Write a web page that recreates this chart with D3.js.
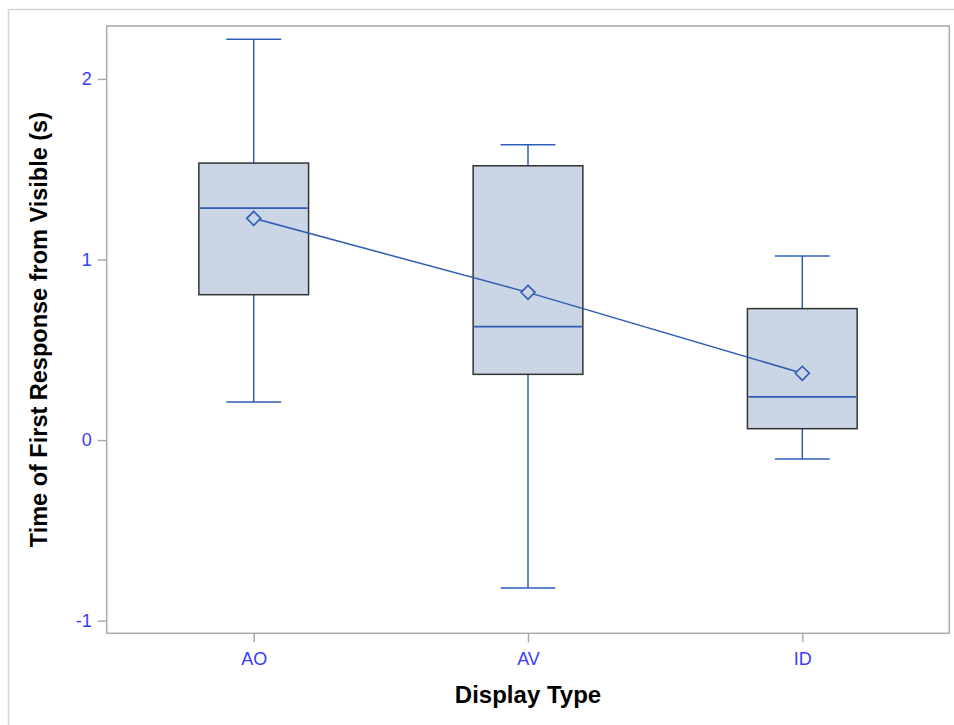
<!DOCTYPE html>
<html>
<head>
<meta charset="utf-8">
<script src="https://cdn.jsdelivr.net/npm/d3@7"></script>
<style>
  html, body { margin: 0; padding: 0; background: #fff; }
  svg { display: block; font-family: Arial, "Liberation Sans", sans-serif; }
</style>
</head>
<body>
<svg id="chart" width="954" height="725"></svg>
<script>
// Box plot statistics per display type
const categories = ["AO", "AV", "ID"];
const whiskerLow  = [0.211, -0.819, -0.105];
const quartile1   = [0.805, 0.364, 0.063];
const medians     = [1.285, 0.628, 0.239];
const quartile3   = [1.534, 1.519, 0.728];
const whiskerHigh = [2.219, 1.636, 1.019];
const means       = [1.228, 0.818, 0.370];
const yTicks      = [-1, 0, 1, 2];

const svg = d3.select("#chart");

const plot = { left: 106.7, right: 949.3, top: 26, bottom: 633.3 };

const x = d3.scalePoint()
  .domain(categories)
  .range([plot.left, plot.right])
  .padding(0.536);

const y = d3.scaleLinear()
  .domain([-1.070, 2.293])
  .range([plot.bottom, plot.top]);

const blue = "#2f5db4";
const tickText = "#3a3aff";
const axisGray = "#a6abaf";

// outer frame
svg.append("line").attr("x1", 8.5).attr("x2", 954).attr("y1", 9.5).attr("y2", 9.5)
  .attr("stroke", "#d4d4d4").attr("stroke-width", 1.5);
svg.append("line").attr("x1", 8.5).attr("x2", 8.5).attr("y1", 9.5).attr("y2", 725)
  .attr("stroke", "#d4d4d4").attr("stroke-width", 1.5);

// plot wall
svg.append("rect")
  .attr("x", plot.left).attr("y", plot.top)
  .attr("width", plot.right - plot.left).attr("height", plot.bottom - plot.top)
  .attr("fill", "#fff").attr("stroke", axisGray).attr("stroke-width", 1.5);

// axes
const yAxis = svg.append("g")
  .attr("transform", `translate(${plot.left},0)`)
  .call(d3.axisLeft(y).tickValues(yTicks).tickFormat(d => String(d)).tickSize(9).tickPadding(6));
const xAxis = svg.append("g")
  .attr("transform", `translate(0,${plot.bottom})`)
  .call(d3.axisBottom(x).tickSize(9).tickPadding(10));

[yAxis, xAxis].forEach(g => {
  g.select(".domain").remove();
  g.selectAll(".tick line").attr("stroke", axisGray).attr("stroke-width", 1.5);
  g.selectAll(".tick text")
    .attr("fill", tickText)
    .style("font-size", "18px")
    .style("font-family", "Arial, 'Liberation Sans', sans-serif");
});

const boxW = x.step() * 0.4;
const capW = boxW / 2;

const rows = categories.map((c, i) => ({
  c, lo: whiskerLow[i], q1: quartile1[i], med: medians[i],
  q3: quartile3[i], hi: whiskerHigh[i], mean: means[i]
}));

const g = svg.append("g");

// whiskers, boxes and medians
rows.forEach(d => {
  const cx = x(d.c);
  g.append("line").attr("x1", cx).attr("x2", cx).attr("y1", y(d.hi)).attr("y2", y(d.q3))
    .attr("stroke", blue).attr("stroke-width", 1.5);
  g.append("line").attr("x1", cx).attr("x2", cx).attr("y1", y(d.q1)).attr("y2", y(d.lo))
    .attr("stroke", blue).attr("stroke-width", 1.5);
  g.append("line").attr("x1", cx - capW / 2).attr("x2", cx + capW / 2).attr("y1", y(d.hi)).attr("y2", y(d.hi))
    .attr("stroke", blue).attr("stroke-width", 1.5);
  g.append("line").attr("x1", cx - capW / 2).attr("x2", cx + capW / 2).attr("y1", y(d.lo)).attr("y2", y(d.lo))
    .attr("stroke", blue).attr("stroke-width", 1.5);
  g.append("rect")
    .attr("x", cx - boxW / 2).attr("y", y(d.q3))
    .attr("width", boxW).attr("height", y(d.q1) - y(d.q3))
    .attr("fill", "#cad5e5").attr("stroke", "#333").attr("stroke-width", 1.5);
  g.append("line").attr("x1", cx - boxW / 2 + 1).attr("x2", cx + boxW / 2 - 1)
    .attr("y1", y(d.med)).attr("y2", y(d.med))
    .attr("stroke", blue).attr("stroke-width", 1.8);
});

// line connecting the means
g.append("path")
  .datum(rows)
  .attr("fill", "none").attr("stroke", blue).attr("stroke-width", 1.5)
  .attr("d", d3.line().x(d => x(d.c)).y(d => y(d.mean)));

// mean markers
const r = 7;
g.selectAll(".mean").data(rows).join("path")
  .attr("class", "mean")
  .attr("d", d => {
    const cx = x(d.c), cy = y(d.mean);
    return `M${cx},${cy - r}L${cx + r},${cy}L${cx},${cy + r}L${cx - r},${cy}Z`;
  })
  .attr("fill", "#cad5e5").attr("stroke", blue).attr("stroke-width", 1.6);

// axis titles
svg.append("text")
  .attr("x", (plot.left + plot.right) / 2).attr("y", 703)
  .attr("text-anchor", "middle")
  .style("font-size", "24px").style("font-weight", "bold").attr("fill", "#000")
  .text("Display Type");

svg.append("text")
  .attr("transform", `translate(47,${(plot.top + plot.bottom) / 2}) rotate(-90)`)
  .attr("text-anchor", "middle")
  .style("font-size", "23.5px").style("font-weight", "bold").attr("fill", "#000")
  .text("Time of First Response from Visible (s)");
</script>
</body>
</html>
